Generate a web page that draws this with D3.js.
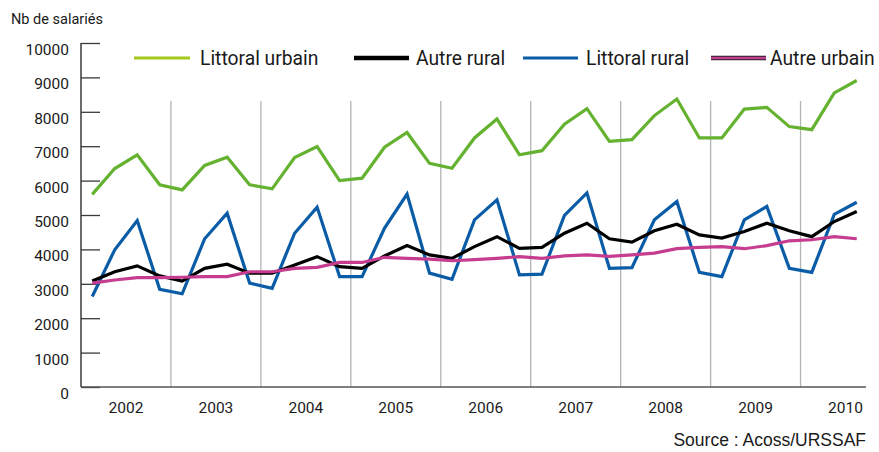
<!DOCTYPE html>
<html>
<head>
<meta charset="utf-8">
<script src="https://cdn.jsdelivr.net/npm/d3@7"></script>
<style>
  body { margin: 0; background: #fff; }
  svg { display: block; font-family: Roboto, "Open Sans", sans-serif; }
</style>
</head>
<body>
<div id="chart"></div>
<script>
// quarterly values, 2002 Q1 -> 2010 Q3
var years = ['2002', '2003', '2004', '2005', '2006', '2007', '2008', '2009', '2010'];
var yTicks = [0, 1000, 2000, 3000, 4000, 5000, 6000, 7000, 8000, 9000, 10000];

var littoralUrbain = [5600, 6350, 6750, 5880, 5730, 6440, 6680, 5880, 5760, 6670, 6990, 6000,
  6070, 6970, 7400, 6500, 6360, 7240, 7790, 6750, 6870, 7640, 8090, 7140, 7190, 7890, 8370,
  7240, 7240, 8080, 8130, 7570, 7480, 8550, 8910];
var autreRural = [3080, 3350, 3520, 3230, 3080, 3450, 3570, 3310, 3310, 3550, 3790, 3500,
  3450, 3810, 4110, 3840, 3740, 4080, 4370, 4030, 4060, 4470, 4760, 4310, 4210, 4540, 4730,
  4420, 4330, 4520, 4760, 4540, 4370, 4810, 5100];
var littoralRural = [2630, 3990, 4840, 2840, 2710, 4310, 5050, 3020, 2870, 4470, 5230, 3210,
  3210, 4620, 5610, 3310, 3130, 4860, 5440, 3260, 3280, 4990, 5640, 3450, 3470, 4860, 5390,
  3330, 3210, 4860, 5250, 3450, 3330, 5020, 5370];
var autreUrbain = [3020, 3110, 3180, 3180, 3190, 3210, 3210, 3350, 3350, 3450, 3480, 3620,
  3620, 3770, 3740, 3720, 3670, 3700, 3740, 3790, 3740, 3810, 3840, 3800, 3840, 3890, 4020,
  4060, 4080, 4020, 4110, 4250, 4280, 4370, 4310];

var seriesNames = ['Littoral urbain', 'Autre rural', 'Littoral rural', 'Autre urbain'];

!(function () {
  var width = 879, height = 452;
  var left = 81, right = 868, top = 43, bottom = 387;
  var nQ = littoralUrbain.length;

  var svg = d3.select('#chart').append('svg')
    .attr('width', width)
    .attr('height', height);

  var x = d3.scaleLinear().domain([-0.5, nQ - 0.5]).range([left, right]);
  var y = d3.scaleLinear().domain([0, 10000]).range([bottom, top]);

  // year separators
  svg.append('g').selectAll('line')
    .data(d3.range(1, years.length))
    .enter().append('line')
    .attr('x1', function (d) { return x(d * 4 - 0.5); })
    .attr('x2', function (d) { return x(d * 4 - 0.5); })
    .attr('y1', 101).attr('y2', bottom)
    .attr('stroke', '#b4b4b4').attr('stroke-width', 1.3);

  // y axis
  var yAxis = d3.axisRight(y).tickValues(yTicks).tickSize(19).tickFormat('');
  var gy = svg.append('g').attr('transform', 'translate(' + left + ',0)').call(yAxis);
  gy.select('.domain').remove();
  gy.selectAll('.tick line').attr('stroke', '#3a3a3a').attr('stroke-width', 1.3);
  gy.append('line').attr('y1', top).attr('y2', bottom)
    .attr('stroke', '#3a3a3a').attr('stroke-width', 1.5);

  svg.append('g').selectAll('text')
    .data(yTicks)
    .enter().append('text')
    .attr('x', 69)
    .attr('y', function (d) { return y(d) + 12; })
    .attr('text-anchor', 'end')
    .attr('font-size', 15.5)
    .attr('fill', '#1a1a1a')
    .text(function (d) { return d; });

  // x axis
  svg.append('line')
    .attr('x1', left).attr('x2', right - 2)
    .attr('y1', bottom).attr('y2', bottom)
    .attr('stroke', '#555').attr('stroke-width', 1.5);

  svg.append('g').selectAll('text')
    .data(years)
    .enter().append('text')
    .attr('x', function (d, i) { return x(i * 4 + 1.5); })
    .attr('y', 413)
    .attr('text-anchor', 'middle')
    .attr('font-size', 15.5)
    .attr('fill', '#1a1a1a')
    .text(function (d) { return d; });

  svg.append('text')
    .attr('x', 11).attr('y', 24)
    .attr('font-size', 14.5)
    .attr('fill', '#1a1a1a')
    .text('Nb de salariés');

  svg.append('text')
    .attr('x', 866).attr('y', 446)
    .attr('text-anchor', 'end')
    .attr('font-family', '"Liberation Sans", Arial, sans-serif')
    .attr('font-size', 17.5)
    .attr('fill', '#1a1a1a')
    .text('Source : Acoss/URSSAF');

  // series lines
  var line = d3.line()
    .x(function (d, i) { return x(i); })
    .y(function (d) { return y(d); });

  var plots = [
    { values: littoralRural, color: '#0a5ca6' },
    { values: autreRural, color: '#000000' },
    { values: autreUrbain, color: '#c63d8f' },
    { values: littoralUrbain, color: '#64b22f' }
  ];

  svg.append('g').selectAll('path')
    .data(plots)
    .enter().append('path')
    .attr('d', function (d) { return line(d.values); })
    .attr('fill', 'none')
    .attr('stroke', function (d) { return d.color; })
    .attr('stroke-width', 3.2)
    .attr('stroke-linejoin', 'miter');

  // legend
  var legend = [
    { name: seriesNames[0], x1: 134, x2: 190, tx: 200, color: '#a5c81c', w: 3 },
    { name: seriesNames[1], x1: 354, x2: 409, tx: 416, color: '#000000', w: 4.5 },
    { name: seriesNames[2], x1: 523, x2: 578, tx: 586, color: '#0a5ca6', w: 3 },
    { name: seriesNames[3], x1: 711, x2: 766, tx: 770, color: '#c63d8f', w: 3, outline: true }
  ];

  var lg = svg.append('g').selectAll('g')
    .data(legend)
    .enter().append('g');

  lg.filter(function (d) { return d.outline; }).append('line')
    .attr('x1', function (d) { return d.x1; })
    .attr('x2', function (d) { return d.x2; })
    .attr('y1', 58).attr('y2', 58)
    .attr('stroke', '#222').attr('stroke-width', 4.5);

  lg.append('line')
    .attr('x1', function (d) { return d.x1; })
    .attr('x2', function (d) { return d.x2; })
    .attr('y1', 58).attr('y2', 58)
    .attr('stroke', function (d) { return d.color; })
    .attr('stroke-width', function (d) { return d.outline ? 2.5 : d.w; });

  lg.append('text')
    .attr('x', function (d) { return d.tx; })
    .attr('y', 65)
    .attr('font-size', 19.3)
    .attr('fill', '#1a1a1a')
    .text(function (d) { return d.name; });
})();
</script>
</body>
</html>
